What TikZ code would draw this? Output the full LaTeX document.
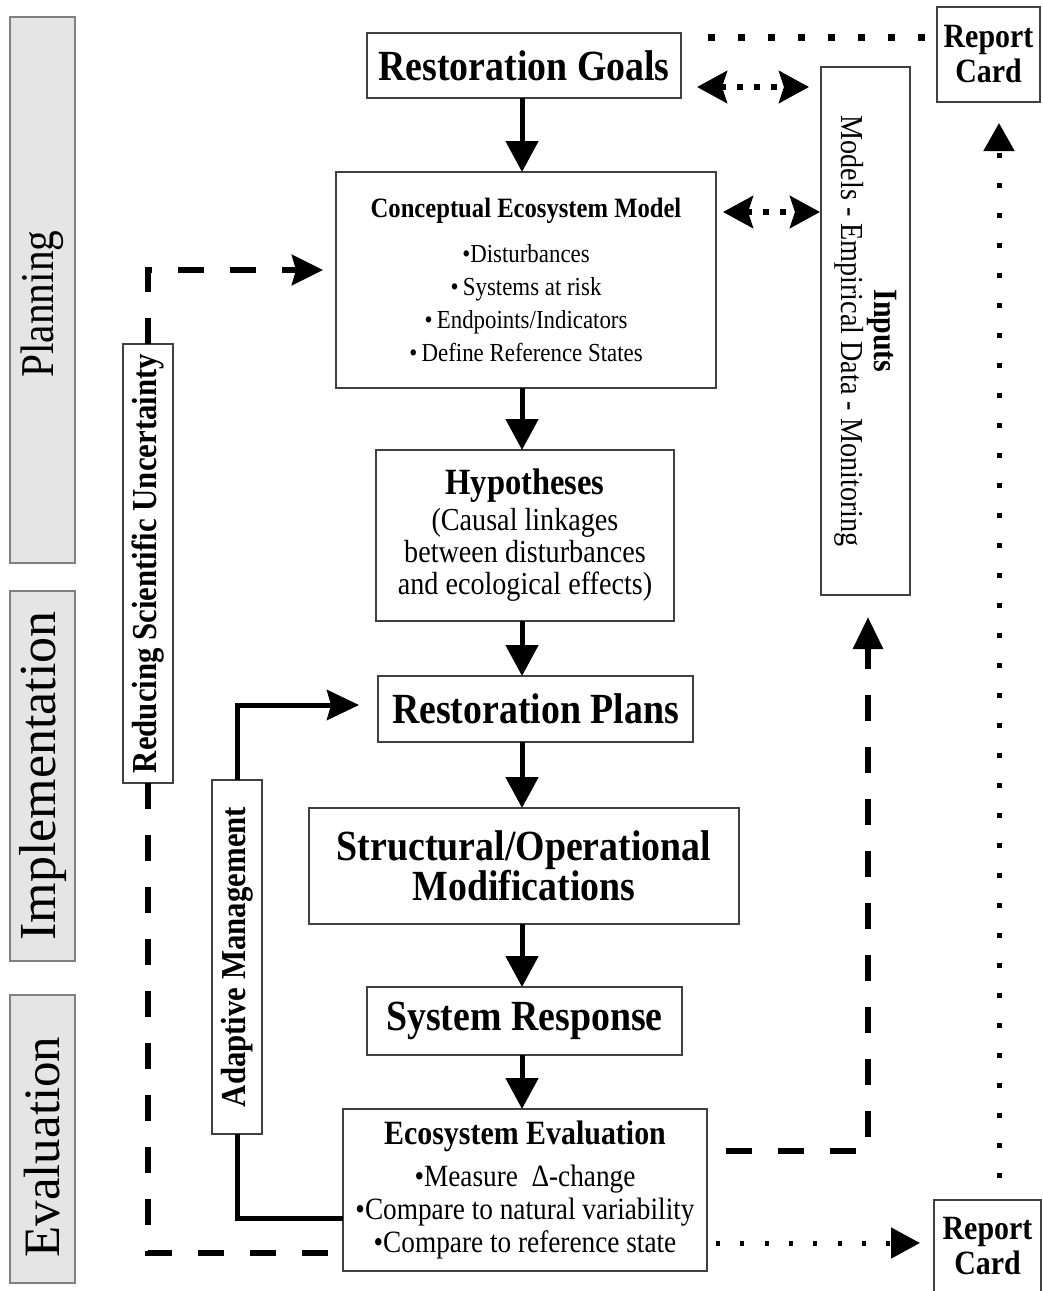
\documentclass[tikz,border=0pt]{standalone}
\usepackage{fontspec}
\setmainfont[FakeStretch=0.88]{Liberation Serif}
\newfontfamily\phasefont{Liberation Serif}
\usetikzlibrary{positioning,arrows.meta,calc}
\tikzset{
  stagebox/.style={rectangle, draw=black!75, line width=1.4pt, inner sep=0pt, outer sep=0pt, align=center},
  bigtext/.style={font=\bfseries\fontsize{43}{40}\selectfont},
  phasebox/.style={rectangle, draw=black!50, fill=black!10, line width=1.4pt, inner sep=0pt, rotate=90, minimum height=65pt},
  sidebox/.style={stagebox, rotate=90, minimum height=50pt, font=\bfseries\fontsize{35}{35}\selectfont},
  cardbox/.style={stagebox, font=\bfseries\fontsize{34}{35}\selectfont},
  arrow/.style={-{Triangle[length=31pt,width=32pt]}, line width=5pt},
  amarrow/.style={-{Stealth[length=32pt,width=30pt,inset=4pt]}, line width=5pt},
  solidlink/.style={line width=5pt},
  dashlink/.style={line width=6pt, dash pattern=on 26pt off 26pt},
  dotline/.style={line width=7pt, dash pattern=on 7pt off 23pt},
  dotup/.style={-{Triangle[length=28pt,width=30pt]}, line width=5pt, dash pattern=on 5pt off 25pt},
  dotright/.style={-{Triangle[length=29pt,width=30pt]}, line width=5pt, dash pattern=on 4pt off 20.3pt},
  dotarrow/.style={{Stealth[length=30pt,width=32pt,inset=5pt]}-{Stealth[length=30pt,width=32pt,inset=5pt]}, line width=6pt, dash pattern=on 6pt off 11pt}
}
\begin{document}
\begin{tikzpicture}[x=1pt, y=1pt]
\useasboundingbox (0,0) rectangle (1042,-1291);
% phase bars on the left
\node[phasebox, minimum width=546pt, font=\fontsize{47}{47}\selectfont] (planning) at (42.5,-290) {Planning\hspace*{28pt}};
\node[phasebox, minimum width=370pt, font=\phasefont\fontsize{52}{52}\selectfont] (implementation) at (42.5,-776) {Implementation};
\node[phasebox, minimum width=288pt, font=\phasefont\fontsize{51}{51}\selectfont] (evaluation) at (42.5,-1139) {Evaluation\hspace*{16pt}};
% main column
\node[stagebox, bigtext, minimum width=314pt, minimum height=65pt] (goals) at (524,-65.5) {Restoration Goals};
\node[stagebox, minimum width=380pt, minimum height=216pt, below=74pt of goals, xshift=2pt, font=\fontsize{26}{33}\selectfont] (cem) {{\bfseries\fontsize{28}{33}\selectfont Conceptual Ecosystem Model}\\[12pt] •Disturbances\\ •\,Systems at risk\\ •\,Endpoints/Indicators\\ •\,Define Reference States};
\node[stagebox, minimum width=298pt, minimum height=171pt, below=62pt of cem, xshift=-1pt, font=\fontsize{32}{32}\selectfont] (hyp) {{\bfseries\fontsize{37}{32}\selectfont Hypotheses}\\[4pt] (Causal linkages\\between disturbances\\and ecological effects)};
\node[stagebox, bigtext, minimum width=315pt, minimum height=66pt, below=55pt of hyp, xshift=10.5pt] (plans) {Restoration Plans};
\node[stagebox, bigtext, minimum width=430pt, minimum height=116pt, below=66pt of plans, xshift=-11.5pt] (struct) {Structural/Operational\\Modifications};
\node[stagebox, bigtext, minimum width=315pt, minimum height=68pt, below=63pt of struct, xshift=0.5pt] (sys) {System Response};
\node[stagebox, minimum width=364pt, minimum height=162pt, below=54pt of sys, xshift=0.5pt, font=\fontsize{31}{33}\selectfont] (eval) {{\bfseries\fontsize{34}{33}\selectfont Ecosystem Evaluation}\\[9pt] •Measure \ Δ-change\\ •Compare to natural variability\\ •Compare to reference state};
% right side
\node[cardbox, minimum width=103pt, minimum height=95pt] (card1) at (988.5,-54.5) {Report\\Card};
\node[cardbox, minimum width=107pt, minimum height=92pt] (card2) at (987.5,-1246) {Report\\Card};
\node[stagebox, rotate=-90, minimum width=528pt, minimum height=89pt, font=\fontsize{32}{33}\selectfont] (inputs) at (865.5,-331) {{\bfseries\fontsize{34}{33}\selectfont Inputs}\\Models - Empirical Data - Monitoring};
% left side
\node[sidebox, minimum width=439pt] (uncert) at (148,-563.5) {Reducing Scientific Uncertainty};
\node[sidebox, minimum width=354pt] (adapt) at (237,-957) {Adaptive Management};
% main flow
\coordinate (spine) at (522,0);
\draw[arrow] (goals.south -| spine) -- (cem.north -| spine);
\draw[arrow] (cem.south -| spine) -- (hyp.north -| spine);
\draw[arrow] (hyp.south -| spine) -- (plans.north -| spine);
\draw[arrow] (plans.south -| spine) -- (struct.north -| spine);
\draw[arrow] (struct.south -| spine) -- (sys.north -| spine);
\draw[arrow] (sys.south -| spine) -- (eval.north -| spine);
% inputs exchange (inputs is turned: south = left side, east = bottom)
\coordinate (gin) at ([yshift=-21.5pt]goals.east);
\coordinate (cin) at ([yshift=68pt]cem.east);
\draw[dotarrow, shorten <=16pt, shorten >=12pt] (gin) -- (gin -| inputs.south);
\draw[dotarrow, shorten <=7pt, shorten >=1pt] (cin) -- (cin -| inputs.south);
\draw[dashlink, -{Triangle[length=32pt,width=29pt]}, shorten <=19pt] ([yshift=39pt]eval.east) -| ([xshift=2.5pt,yshift=-22pt]inputs.east);
% report cards
\coordinate (gtop) at ([xshift=27pt,yshift=-4pt]goals.north east);
\draw[dotline] (gtop) -- (gtop -| card1.west);
\coordinate (rline) at (999,0);
\draw[dotup, shorten <=22pt, shorten >=21pt] (card2.north -| rline) -- (card1.south -| rline);
\coordinate (eout) at ([yshift=-53pt]eval.east);
\draw[dotright, shorten <=9pt, shorten >=14pt] (eout) -- (eout -| card2.west);
% feedback loops (side boxes are turned: east = top, west = bottom)
\draw[dashlink, -{Stealth[length=31pt,width=30pt,inset=4pt]}] (uncert.east) |- ([xshift=-13pt,yshift=10pt]cem.west);
\draw[dashlink] (uncert.west) |- ([yshift=-63pt]eval.west);
\draw[amarrow] (adapt.east) |- ([xshift=-19pt,yshift=4pt]plans.west);
\draw[solidlink] (adapt.west) |- ([yshift=-28pt]eval.west);
\end{tikzpicture}
\end{document}
